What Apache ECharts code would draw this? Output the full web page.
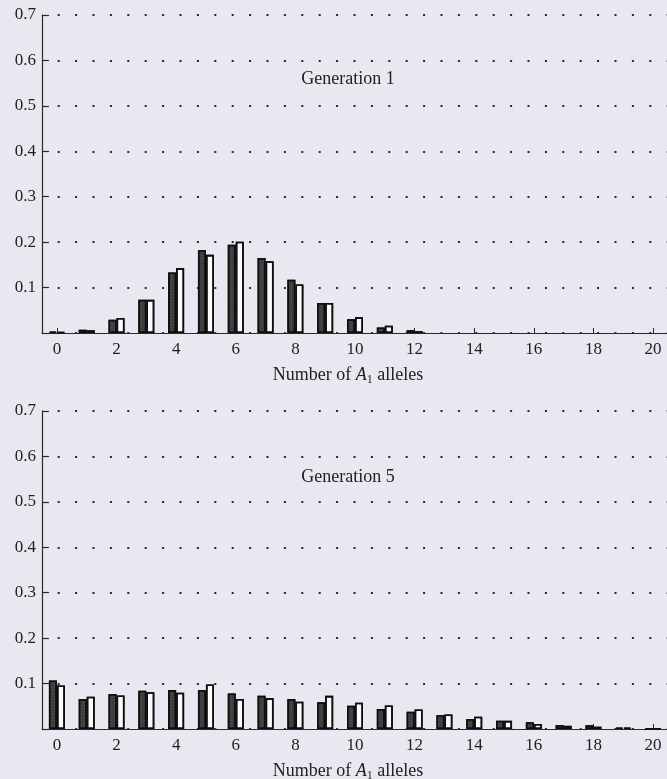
<!DOCTYPE html>
<html>
<head>
<meta charset="utf-8">
<script src="https://cdn.jsdelivr.net/npm/echarts@6/dist/echarts.min.js"></script>
<style>
html,body{margin:0;padding:0;background:#e8e9f0;}
#c{width:667px;height:779px;}
</style>
</head>
<body>
<div id="c"></div>
<script>
var categories = ['0','1','2','3','4','5','6','7','8','9','10','11','12','13','14','15','16','17','18','19','20'];
var yTicks = [0, 0.1, 0.2, 0.3, 0.4, 0.5, 0.6, 0.7];
var panelTitles = ['Generation 1', 'Generation 5'];
// Generation 1: dark (stippled) bars and white bars
var gen1Dark  = [0.003, 0.007, 0.029, 0.073, 0.133, 0.182, 0.194, 0.165, 0.117, 0.066, 0.030, 0.012, 0.006, 0, 0, 0, 0, 0, 0, 0, 0];
var gen1White = [0.002, 0.006, 0.033, 0.073, 0.143, 0.172, 0.201, 0.158, 0.107, 0.066, 0.035, 0.016, 0.004, 0, 0, 0, 0, 0, 0, 0, 0];
// Generation 5
var gen5Dark  = [0.107, 0.066, 0.077, 0.084, 0.086, 0.086, 0.078, 0.073, 0.066, 0.059, 0.051, 0.044, 0.038, 0.030, 0.022, 0.018, 0.015, 0.009, 0.008, 0.003, 0.001];
var gen5White = [0.096, 0.071, 0.074, 0.081, 0.080, 0.098, 0.066, 0.068, 0.060, 0.073, 0.058, 0.052, 0.043, 0.032, 0.027, 0.018, 0.011, 0.007, 0.005, 0.003, 0.001];

var FONT = '"Liberation Serif", "DejaVu Serif", serif';
var INK = '#1e1e1e';

function xAxis(idx) {
  return {
    type: 'category', gridIndex: idx, data: categories,
    axisLine: {lineStyle: {color: '#2a2a2a', width: 1.2}},
    axisTick: {show: true, inside: true, length: 5, alignWithLabel: true, interval: 1, lineStyle: {color: '#2a2a2a'}},
    axisLabel: {interval: 1, color: INK, fontFamily: FONT, fontSize: 17, margin: 8},
    name: '{a|Number of }{i|A}{s|1}{a| alleles}',
    nameLocation: 'middle', nameGap: 31,
    nameTextStyle: {
      padding: [0, 14, 0, 0],
      rich: {
        a: {fontFamily: FONT, fontSize: 18, color: INK, lineHeight: 22},
        i: {fontFamily: FONT, fontSize: 18, color: INK, fontStyle: 'italic', lineHeight: 22},
        s: {fontFamily: FONT, fontSize: 12, color: INK, lineHeight: 14, verticalAlign: 'bottom'}
      }
    }
  };
}
function yAxis(idx) {
  return {
    type: 'value', gridIndex: idx, min: yTicks[0], max: yTicks[yTicks.length - 1], interval: 0.1,
    axisLine: {show: true, lineStyle: {color: '#2a2a2a', width: 1.2}},
    axisTick: {show: true, inside: true, length: 7, lineStyle: {color: '#2a2a2a', width: 1.2}},
    axisLabel: {color: INK, fontFamily: FONT, fontSize: 17, margin: 6,
      formatter: function (v) { return v === 0 ? '' : v.toFixed(1); }},
    splitLine: {show: true, lineStyle: {color: '#2a2a2a', width: 2, type: [2, 15.4], dashOffset: 1.7, cap: 'butt'}}
  };
}
function clean(arr) { return arr.map(function (v) { return v === 0 ? '-' : v; }); }
function bars(idx, dark, white) {
  return [
    {type: 'bar', xAxisIndex: idx, yAxisIndex: idx, data: clean(dark), barWidth: 8, barGap: '0%',
     itemStyle: {color: '#3e3e3e', borderColor: '#0e0e0e', borderWidth: 1.5,
       decal: {symbol: 'rect', symbolSize: 0.6, color: 'rgba(210,210,220,0.5)', dashArrayX: [1, 2], dashArrayY: [1, 2], rotation: 0}},
     emphasis: {disabled: true}, animation: false, z: 3},
    {type: 'bar', xAxisIndex: idx, yAxisIndex: idx, data: clean(white), barWidth: 8, barGap: '0%',
     itemStyle: {color: '#fbfbfd', borderColor: '#0e0e0e', borderWidth: 1.6, decal: {symbol: 'none'}},
     emphasis: {disabled: true}, animation: false, z: 3}
  ];
}

var chart = echarts.init(document.getElementById('c'), null, {renderer: 'canvas'});
chart.setOption({
  backgroundColor: '#e8e9f0',
  animation: false,
  aria: {enabled: true, decal: {show: true}},
  title: [
    {text: panelTitles[0], left: 343, top: 65, textAlign: 'center', textStyle: {fontFamily: FONT, fontSize: 18, fontWeight: 'normal', color: INK}},
    {text: panelTitles[1], left: 343, top: 463, textAlign: 'center', textStyle: {fontFamily: FONT, fontSize: 18, fontWeight: 'normal', color: INK}}
  ],
  grid: [
    {left: 42, top: 15, width: 626, height: 318, outerBoundsMode: 'none', containLabel: false},
    {left: 42, top: 411, width: 626, height: 318, outerBoundsMode: 'none', containLabel: false}
  ],
  xAxis: [xAxis(0), xAxis(1)],
  yAxis: [yAxis(0), yAxis(1)],
  series: bars(0, gen1Dark, gen1White).concat(bars(1, gen5Dark, gen5White))
});
</script>
</body>
</html>
